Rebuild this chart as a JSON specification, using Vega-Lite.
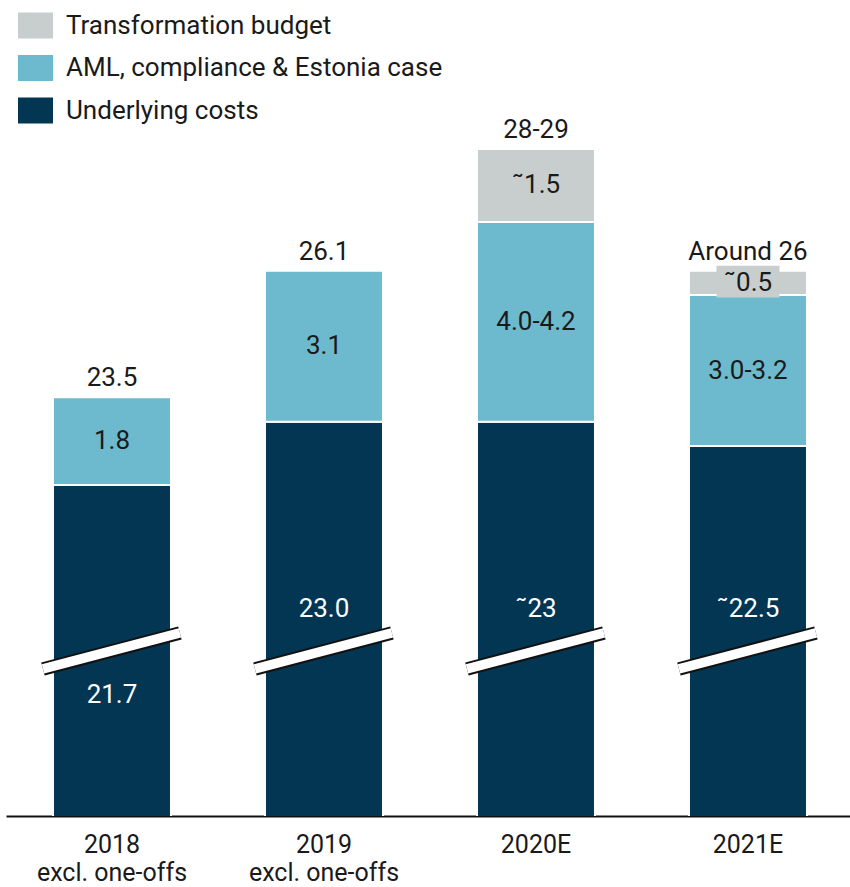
{
  "$schema": "https://vega.github.io/schema/vega-lite/v6.json",
  "width": 844,
  "height": 816,
  "autosize": {"type": "none"},
  "padding": {"left": 6, "top": 0, "right": 0, "bottom": 71},
  "config": {"view": {"stroke": null}, "font": "Roboto", "text": {"font": "Roboto"}},
  "datasets": {
    "segments": [
      {"year": "2018", "category": "Underlying costs", "value": 21.7, "label": "21.7", "rank": 1},
      {"year": "2018", "category": "AML, compliance & Estonia case", "value": 1.8, "label": "1.8", "rank": 2},
      {"year": "2019", "category": "Underlying costs", "value": 23.0, "label": "23.0", "rank": 1},
      {"year": "2019", "category": "AML, compliance & Estonia case", "value": 3.1, "label": "3.1", "rank": 2},
      {"year": "2020E", "category": "Underlying costs", "value": 23.0, "label": "˜23", "rank": 1},
      {"year": "2020E", "category": "AML, compliance & Estonia case", "value": 4.1, "label": "4.0-4.2", "rank": 2},
      {"year": "2020E", "category": "Transformation budget", "value": 1.5, "label": "˜1.5", "rank": 3},
      {"year": "2021E", "category": "Underlying costs", "value": 22.5, "label": "˜22.5", "rank": 1},
      {"year": "2021E", "category": "AML, compliance & Estonia case", "value": 3.1, "label": "3.0-3.2", "rank": 2},
      {"year": "2021E", "category": "Transformation budget", "value": 0.5, "label": "˜0.5", "rank": 3}
    ],
    "totals": [
      {"year": "2018", "total": 23.5, "label": "23.5"},
      {"year": "2019", "total": 26.1, "label": "26.1"},
      {"year": "2020E", "total": 28.6, "label": "28-29"},
      {"year": "2021E", "total": 26.1, "label": "Around 26"}
    ]
  },
  "encoding": {
    "x": {
      "field": "year",
      "type": "nominal",
      "sort": null,
      "scale": {"paddingInner": 0.4434, "paddingOuter": 0.2123, "align": 0.522},
      "axis": {
        "title": null,
        "domainColor": "#111111",
        "domainWidth": 2,
        "ticks": false,
        "tickSize": 0,
        "labelAngle": 0,
        "labelFont": "Roboto",
        "labelFontSize": 25,
        "labelColor": "#1a1a1a",
        "labelBaseline": "alphabetic",
        "labelPadding": 36,
        "labelLineHeight": 28,
        "labelBound": false,
        "labelOverlap": false,
        "labelExpr": "datum.value == '2018' || datum.value == '2019' ? [datum.value, 'excl. one-offs'] : datum.value"
      }
    }
  },
  "layer": [
    {
      "data": {"name": "segments"},
      "transform": [
        {"stack": "value", "groupby": ["year"], "sort": [{"field": "rank", "order": "ascending"}], "as": ["v0", "v1"]}
      ],
      "mark": {"type": "bar", "clip": true, "stroke": "white", "strokeWidth": 2},
      "encoding": {
        "y": {"field": "v0", "type": "quantitative", "scale": {"domain": [14.9, 31.66], "zero": false, "nice": false}, "axis": null},
        "y2": {"field": "v1"},
        "color": {
          "field": "category",
          "type": "nominal",
          "scale": {
            "domain": ["Transformation budget", "AML, compliance & Estonia case", "Underlying costs"],
            "range": ["#c8cecd", "#6dbace", "#033653"]
          },
          "legend": {
            "title": null,
            "orient": "none",
            "legendX": 12,
            "legendY": 8,
            "padding": 0,
            "symbolType": "M-1,-0.743H1V0.743H-1Z",
            "symbolSize": 1225,
            "symbolStrokeWidth": 0,
            "symbolOpacity": 1,
            "labelFont": "Roboto",
            "labelFontSize": 26,
            "labelColor": "#1a1a1a",
            "labelOffset": 13,
            "rowPadding": 11.5,
            "labelLimit": 600
          }
        }
      }
    },
    {
      "data": {"name": "segments"},
      "transform": [{"filter": "datum.year == '2021E' && datum.rank == 3"}],
      "mark": {"type": "bar", "width": {"band": 0.534}, "color": "#c8cecd"},
      "encoding": {
        "y": {"datum": 26.2, "type": "quantitative"},
        "y2": {"datum": 25.55}
      }
    },
    {
      "data": {"name": "segments"},
      "transform": [
        {"stack": "value", "groupby": ["year"], "sort": [{"field": "rank", "order": "ascending"}], "as": ["v0", "v1"]},
        {"filter": "datum.rank > 1"},
        {"calculate": "(datum.v0 + datum.v1) / 2", "as": "mid"}
      ],
      "mark": {"type": "text", "fontSize": 26, "color": "#1a1a1a", "baseline": "middle"},
      "encoding": {
        "y": {"field": "mid", "type": "quantitative"},
        "text": {"field": "label"}
      }
    },
    {
      "data": {"name": "segments"},
      "transform": [{"filter": "datum.rank == 1 && datum.year == '2018'"}],
      "mark": {"type": "text", "fontSize": 26, "color": "white", "baseline": "middle"},
      "encoding": {
        "y": {"datum": 17.38, "type": "quantitative"},
        "text": {"field": "label"}
      }
    },
    {
      "data": {"name": "segments"},
      "transform": [{"filter": "datum.rank == 1 && datum.year != '2018'"}],
      "mark": {"type": "text", "fontSize": 26, "color": "white", "baseline": "middle"},
      "encoding": {
        "y": {"datum": 19.15, "type": "quantitative"},
        "text": {"field": "label"}
      }
    },
    {
      "data": {"name": "totals"},
      "mark": {"type": "rule", "color": "#111111", "strokeWidth": 13.5, "strokeCap": "butt"},
      "encoding": {
        "x": {"field": "year", "type": "nominal", "sort": null, "bandPosition": -0.085},
        "x2": {"field": "year", "bandPosition": 1.076},
        "y": {"datum": 17.92, "type": "quantitative"},
        "y2": {"datum": 18.66}
      }
    },
    {
      "data": {"name": "totals"},
      "mark": {"type": "rule", "color": "white", "strokeWidth": 9.5, "strokeCap": "butt"},
      "encoding": {
        "x": {"field": "year", "type": "nominal", "sort": null, "bandPosition": -0.085},
        "x2": {"field": "year", "bandPosition": 1.076},
        "y": {"datum": 17.92, "type": "quantitative"},
        "y2": {"datum": 18.66}
      }
    },
    {
      "data": {"name": "totals"},
      "mark": {"type": "text", "fontSize": 26, "color": "#1a1a1a", "baseline": "alphabetic", "dy": -11},
      "encoding": {
        "y": {"field": "total", "type": "quantitative"},
        "text": {"field": "label"}
      }
    }
  ]
}
